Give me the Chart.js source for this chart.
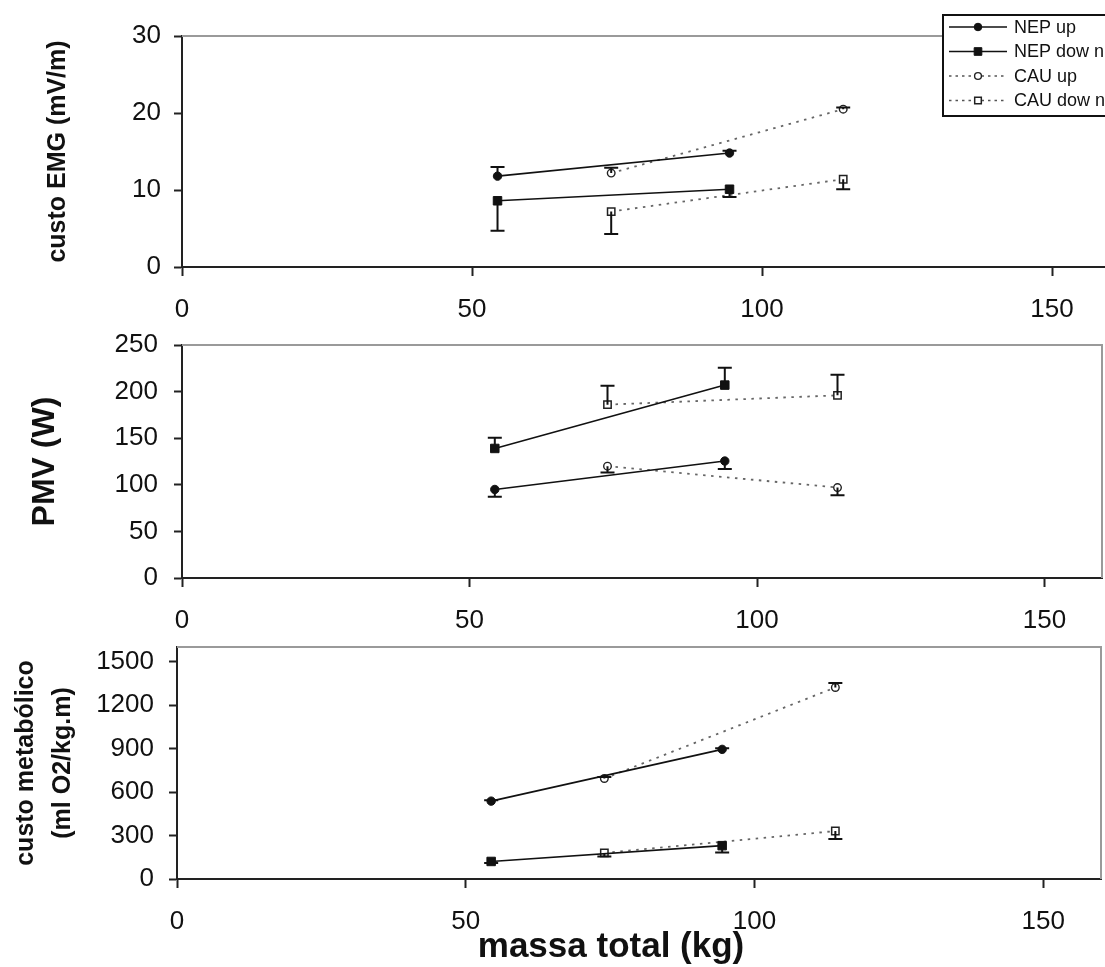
<!DOCTYPE html>
<html><head><meta charset="utf-8">
<script src="https://cdn.jsdelivr.net/npm/chart.js@4.4.1/dist/chart.umd.min.js"></script>
<style>
html,body{margin:0;padding:0;background:#fff;overflow:hidden;width:1105px;height:967px;position:relative;}
canvas{position:absolute;left:0;}
</style></head><body>
<canvas id="c1" width="1125" height="330" style="top:0px"></canvas>
<canvas id="c2" width="1125" height="310" style="top:330px"></canvas>
<canvas id="c3" width="1125" height="327" style="top:640px"></canvas>
<script>
// ---------- data ----------
const seriesLabels = ['NEP up', 'NEP dow n', 'CAU up', 'CAU dow n'];
const massNEP = [54.4, 94.4];
const massCAU = [74.0, 114.0];
const xTicks = [0, 50, 100, 150];
const xMax = 160;

// custo EMG (mV/m)
const emgTicks = [0, 10, 20, 30];
const emgNEPup = [11.8, 14.8];     const emgNEPupErr = [1.2, 0.3];
const emgNEPdown = [8.6, 10.1];    const emgNEPdownErr = [-3.9, -1.0];
const emgCAUup = [12.2, 20.5];     const emgCAUupErr = [0.7, 0.2];
const emgCAUdown = [7.2, 11.4];    const emgCAUdownErr = [-2.9, -1.3];

// PMV (W)
const pmvTicks = [0, 50, 100, 150, 200, 250];
const pmvNEPup = [95, 125.5];      const pmvNEPupErr = [-7.8, -8.5];
const pmvNEPdown = [139, 207];     const pmvNEPdownErr = [11.5, 18.6];
const pmvCAUup = [120, 97];        const pmvCAUupErr = [-6.8, -8.3];
const pmvCAUdown = [186, 196];     const pmvCAUdownErr = [20.4, 22];

// custo metabólico (ml O2/kg.m)
const metTicks = [0, 300, 600, 900, 1200, 1500];
const metMax = 1600;
const metNEPup = [537, 894];       const metNEPupErr = [6, 8];
const metNEPdown = [121, 230];     const metNEPdownErr = [-10, -48];
const metCAUup = [693, 1321];      const metCAUupErr = [10, 30];
const metCAUdown = [180, 331];     const metCAUdownErr = [-25, -55];

// ---------- styles ----------
const FONT = "'Liberation Sans', Arial, Helvetica, sans-serif";
const seriesStyles = [
  {borderColor:'#111', borderWidth:1.6, borderDash:[], pointStyle:'circle', pointRadius:4.2, pointBackgroundColor:'#111', pointBorderColor:'#111', pointBorderWidth:1},
  {borderColor:'#111', borderWidth:1.6, borderDash:[], pointStyle:'rect', pointRadius:6, pointBackgroundColor:'#111', pointBorderColor:'#111', pointBorderWidth:1},
  {borderColor:'#666', borderWidth:1.8, borderDash:[2.5,5.5], pointStyle:'circle', pointRadius:3.8, pointBackgroundColor:'#fff', pointBorderColor:'#222', pointBorderWidth:1.4},
  {borderColor:'#666', borderWidth:1.8, borderDash:[2.5,5.5], pointStyle:'rect', pointRadius:5.2, pointBackgroundColor:'#fff', pointBorderColor:'#222', pointBorderWidth:1.5}
];

function makeDatasets(vals, errs) {
  const xs = [massNEP, massNEP, massCAU, massCAU];
  return vals.map((v, i) => Object.assign({
    label: seriesLabels[i],
    data: v.map((y, j) => ({x: xs[i][j], y: y})),
    errors: errs[i],
    fill: false, tension: 0
  }, seriesStyles[i]));
}

// ---------- plugins ----------
const errorBarPlugin = {
  id: 'errorBars',
  afterDatasetsDraw(chart) {
    const ctx = chart.ctx, xs = chart.scales.x, ys = chart.scales.y;
    ctx.save();
    ctx.strokeStyle = '#111'; ctx.lineWidth = 2; ctx.setLineDash([]);
    chart.data.datasets.forEach(ds => {
      ds.data.forEach((p, j) => {
        const e = ds.errors[j];
        const px = xs.getPixelForValue(p.x);
        const y0 = ys.getPixelForValue(p.y);
        const y1 = ys.getPixelForValue(p.y + e);
        ctx.beginPath();
        ctx.moveTo(px, y0); ctx.lineTo(px, y1);
        ctx.moveTo(px - 7, y1); ctx.lineTo(px + 7, y1);
        ctx.stroke();
      });
    });
    ctx.restore();
  }
};

const framePlugin = {
  id: 'frame',
  beforeDatasetsDraw(chart) {
    const {ctx, chartArea: a} = chart;
    ctx.save();
    ctx.strokeStyle = '#9a9a9a'; ctx.lineWidth = 2;
    ctx.beginPath();
    ctx.moveTo(a.left, a.top); ctx.lineTo(a.right, a.top); ctx.lineTo(a.right, a.bottom);
    ctx.stroke();
    ctx.restore();
  }
};

function drawMarker(ctx, st, x, y) {
  ctx.save();
  ctx.fillStyle = st.pointBackgroundColor; ctx.strokeStyle = st.pointBorderColor;
  ctx.lineWidth = st.pointBorderWidth; ctx.setLineDash([]);
  ctx.beginPath();
  if (st.pointStyle === 'circle') {
    ctx.arc(x, y, st.pointRadius * 0.9, 0, Math.PI * 2);
  } else {
    const s = Math.SQRT1_2 * st.pointRadius * 0.9;
    ctx.rect(x - s, y - s, 2 * s, 2 * s);
  }
  ctx.fill(); ctx.stroke();
  ctx.restore();
}

const boxLegendPlugin = {
  id: 'boxLegend',
  afterDraw(chart, args, o) {
    const ctx = chart.ctx;
    ctx.save();
    ctx.fillStyle = '#fff'; ctx.fillRect(o.x, o.y, o.w, o.h);
    ctx.strokeStyle = '#111'; ctx.lineWidth = 2; ctx.strokeRect(o.x, o.y, o.w, o.h);
    chart.data.datasets.forEach((ds, i) => {
      const cy = o.y + o.first + i * o.step;
      ctx.strokeStyle = ds.borderColor === '#666' ? '#555' : ds.borderColor;
      ctx.lineWidth = ds.borderDash.length ? 1.3 : 1.6;
      ctx.setLineDash(ds.borderDash.length ? [2.5, 4] : []);
      ctx.beginPath(); ctx.moveTo(o.x + 6, cy); ctx.lineTo(o.x + 64, cy); ctx.stroke();
      drawMarker(ctx, ds, o.x + 35, cy);
      ctx.setLineDash([]);
      ctx.fillStyle = '#111'; ctx.font = '18px ' + FONT;
      ctx.textBaseline = 'middle'; ctx.textAlign = 'left';
      ctx.fillText(ds.label, o.x + 71, cy + 1);
    });
    ctx.restore();
  }
};

const xTitlePlugin = {
  id: 'xTitle',
  afterDraw(chart, args, o) {
    if (!o || !o.text) return;
    const ctx = chart.ctx;
    ctx.save();
    ctx.fillStyle = '#111'; ctx.font = 'bold 35px ' + FONT;
    ctx.textAlign = 'center'; ctx.textBaseline = 'middle';
    ctx.fillText(o.text, o.cx, o.cy);
    ctx.restore();
  }
};

function makeChart(id, cfg) {
  const tickFont = {family: FONT, size: 26};
  return new Chart(document.getElementById(id), {
    type: 'line',
    data: {datasets: makeDatasets(cfg.vals, cfg.errs)},
    options: {
      responsive: false, animation: false, devicePixelRatio: 1,
      layout: {padding: {top: cfg.padTop, right: cfg.padRight, left: 0, bottom: 0}},
      plugins: {
        legend: {display: false}, tooltip: {enabled: false},
        boxLegend: cfg.legend || false,
        xTitle: cfg.xTitle || false
      },
      scales: {
        x: {
          type: 'linear', min: 0, max: xMax,
          afterBuildTicks: s => { s.ticks = xTicks.map(v => ({value: v})); },
          afterFit: s => { s.height = cfg.xH; s.paddingLeft = 0; s.paddingRight = 0; },
          grid: {drawOnChartArea: false, drawTicks: true, tickLength: 9, tickColor: '#222', tickWidth: 2},
          border: {display: true, color: '#222', width: 2},
          ticks: {font: tickFont, color: '#111', padding: cfg.xPad, maxRotation: 0, autoSkip: false,
                  callback: v => String(v)}
        },
        y: {
          type: 'linear', min: 0, max: cfg.yMax,
          afterBuildTicks: s => { s.ticks = cfg.yTicks.map(v => ({value: v})); },
          afterFit: s => { s.width = cfg.left; s.paddingTop = 0; s.paddingBottom = 0; },
          grid: {drawOnChartArea: false, drawTicks: true, tickLength: 8, tickColor: '#222', tickWidth: 2},
          border: {display: true, color: '#222', width: 2},
          ticks: {font: tickFont, color: '#111', padding: cfg.yPad, autoSkip: false,
                  callback: v => String(v)},
          title: {display: true, text: cfg.yTitle, color: '#111',
                  font: {family: FONT, size: cfg.yTitleSize, weight: 'bold', lineHeight: cfg.yTitleLH || 1.2},
                  padding: {top: cfg.yTitlePad, bottom: 0}}
        }
      }
    },
    plugins: cfg.plugins
  });
}

makeChart('c1', {
  vals: [emgNEPup, emgNEPdown, emgCAUup, emgCAUdown],
  errs: [emgNEPupErr, emgNEPdownErr, emgCAUupErr, emgCAUdownErr],
  yTicks: emgTicks, yMax: 30,
  padTop: 36, padRight: 15, left: 182, xH: 63, xPad: 18, yPad: 13,
  yTitle: 'custo EMG (mV/m)', yTitleSize: 25, yTitlePad: 43,
  legend: {x: 943, y: 15, w: 200, h: 101, first: 12, step: 24.5},
  plugins: [framePlugin, errorBarPlugin, boxLegendPlugin, xTitlePlugin]
});

makeChart('c2', {
  vals: [pmvNEPup, pmvNEPdown, pmvCAUup, pmvCAUdown],
  errs: [pmvNEPupErr, pmvNEPdownErr, pmvCAUupErr, pmvCAUdownErr],
  yTicks: pmvTicks, yMax: 250,
  padTop: 15, padRight: 23, left: 182, xH: 62, xPad: 18, yPad: 16,
  yTitle: 'PMV (W)', yTitleSize: 32, yTitlePad: 26,
  plugins: [framePlugin, errorBarPlugin, boxLegendPlugin, xTitlePlugin]
});

makeChart('c3', {
  vals: [metNEPup, metNEPdown, metCAUup, metCAUdown],
  errs: [metNEPupErr, metNEPdownErr, metCAUupErr, metCAUdownErr],
  yTicks: metTicks, yMax: metMax,
  padTop: 6, padRight: 24, left: 177, xH: 88, xPad: 18, yPad: 15,
  yTitle: ['custo metabólico', '(ml O2/kg.m)'], yTitleSize: 25, yTitleLH: 1.5, yTitlePad: 7,
  xTitle: {text: 'massa total (kg)', cx: 611, cy: 307},
  plugins: [framePlugin, errorBarPlugin, boxLegendPlugin, xTitlePlugin]
});
</script>
</body></html>
